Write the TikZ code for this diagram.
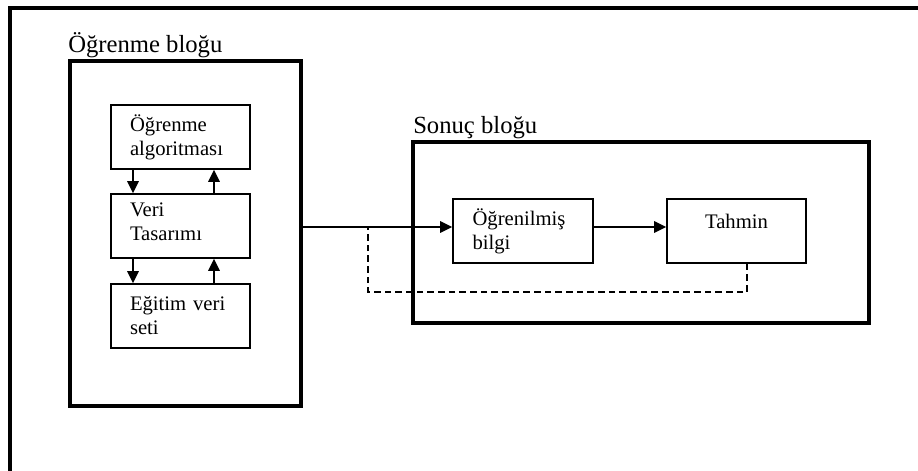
\documentclass[tikz,border=0pt]{standalone}
\usepackage{fontspec}
\setmainfont{Liberation Serif}
\usetikzlibrary{arrows.meta}
\tikzset{
  inbox/.style={draw, line width=1.2pt, minimum width=104.25pt, minimum height=48pt,
    text width=75.75pt, inner xsep=14.25pt, inner ysep=0pt, align=left, font=\fontsize{15.5pt}{18pt}\selectfont},
  bigbox/.style={draw, line width=2.6pt},
  ttl/.style={font=\fontsize{18.5pt}{22pt}\selectfont, inner sep=0pt, anchor=base west},
  arr/.style={line width=1.3pt, -{Triangle[length=9pt,width=8.5pt]}},
  dsh/.style={line width=1.3pt, dash pattern=on 5pt off 3pt}
}
\begin{document}
\begin{tikzpicture}[x=0.75pt,y=-0.75pt]
\useasboundingbox (0,0) rectangle (918,471);
\clip (0,0) rectangle (918,471);
\fill[white] (0,0) rectangle (918,471);
% outer frame (only left and top visible)
\draw[line width=3pt] (10,7.5) rectangle (1000,600);
% Learning block
\node[bigbox, minimum width=173.25pt, minimum height=258.75pt, inner sep=0pt] (L) at (185.5,233.5) {};
\node[ttl] (Lt) at (68,52) {Öğrenme bloğu};
\node[inbox] (a) at (180.5,137) {Öğrenme\\algoritması};
\node[inbox] (b) at (180.5,226) {Veri\\Tasarımı\rule[-6pt]{0pt}{0pt}};
\node[inbox] (c) at (180.5,316) {Eğitim veri\\seti};
\coordinate (xl) at (133,0);
\coordinate (xr) at (214,0);
\draw[arr] (a.south -| xl) -- (b.north -| xl);
\draw[arr] (b.north -| xr) -- (a.south -| xr);
\draw[arr] (b.south -| xl) -- (c.north -| xl);
\draw[arr] (c.north -| xr) -- (b.south -| xr);
% Result block
\node[bigbox, minimum width=342pt, minimum height=135.75pt, inner sep=0pt] (S) at (641,232.5) {};
\node[ttl] (St) at (413,133) {Sonuç bloğu};
\node[inbox, minimum width=105pt] (o) at (523,231) {Öğrenilmiş\\bilgi};
\node[inbox, align=center] (t) at (736.5,231) {Tahmin\rule[-15pt]{0pt}{0pt}};
\coordinate (ay) at (0,227);
\draw[arr] (L.east |- ay) -- (o.west |- ay);
\draw[arr] (o.east |- ay) -- (t.west |- ay);
% dashed feedback
\coordinate (dx) at (747,0);
\coordinate (d1) at (747,292);
\coordinate (d2) at (368,292);
\coordinate (d3) at (368,227);
\draw[dsh] (t.south -| dx) -- (d1) -- (d2) -- (d3);
\end{tikzpicture}
\end{document}
